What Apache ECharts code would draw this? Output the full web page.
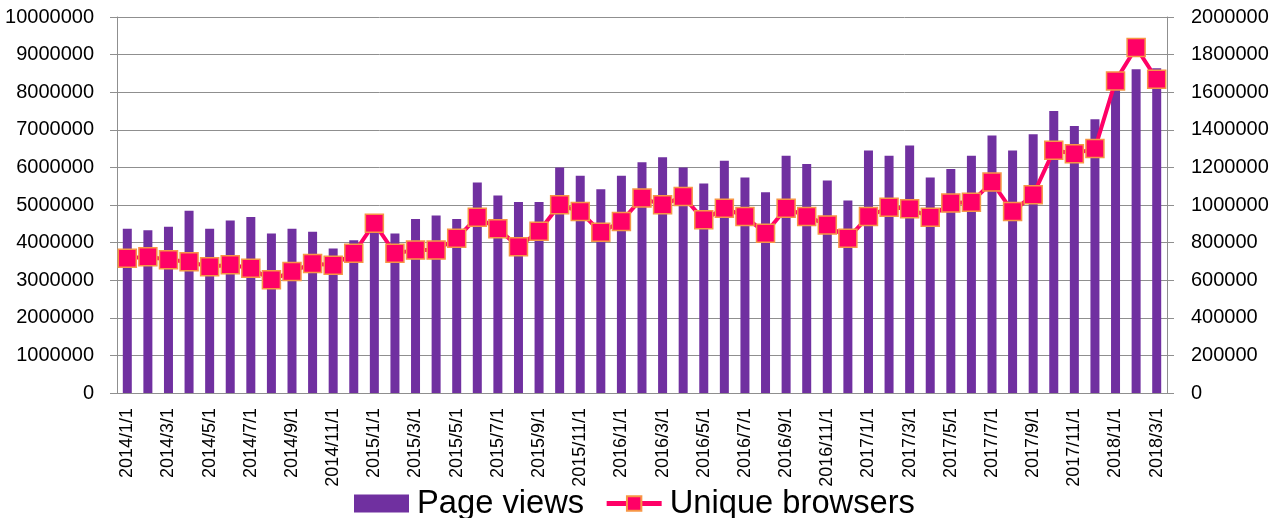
<!DOCTYPE html>
<html>
<head>
<meta charset="utf-8">
<script src="https://cdn.jsdelivr.net/npm/echarts@6/dist/echarts.min.js"></script>
<style>
  html, body { margin: 0; padding: 0; background: #fff; }
  #main { width: 1283px; height: 518px; }
</style>
</head>
<body>
<div id="main"></div>
<script>
// months 2014/1/1 .. 2018/3/1
const months = [];
for (let y = 2014; y <= 2018; y++) {
  for (let m = 1; m <= 12; m++) {
    if (y === 2018 && m > 3) break;
    months.push(y + '/' + m + '/1');
  }
}

const pageViews = [
  4370000, 4330000, 4420000, 4850000, 4370000, 4590000, 4680000, 4240000, 4370000, 4290000, 3840000, 4060000,
  4600000, 4240000, 4630000, 4720000, 4630000, 5600000, 5250000, 5080000, 5080000, 6000000, 5780000, 5420000,
  5780000, 6140000, 6270000, 6000000, 5570000, 6180000, 5730000, 5340000, 6310000, 6090000, 5650000, 5120000,
  6450000, 6310000, 6580000, 5730000, 5960000, 6310000, 6850000, 6450000, 6880000, 7500000, 7100000, 7280000,
  8350000, 8610000, 8640000
];

const uniqueBrowsers = [
  717000, 725000, 709000, 698000, 671000, 682000, 664000, 602000, 646000, 689000, 680000, 743000,
  903000, 743000, 760000, 760000, 823000, 935000, 874000, 778000, 860000, 1001000, 965000, 855000,
  912000, 1037000, 1001000, 1045000, 921000, 983000, 939000, 850000, 983000, 939000, 894000, 823000,
  939000, 988000, 980000, 935000, 1010000, 1015000, 1122000, 965000, 1054000, 1291000, 1273000, 1300000,
  1660000, 1838000, 1669000
];

const chart = echarts.init(document.getElementById('main'));

const gray = '#8f8f8f';
const plain = function (v) { return String(v); };

chart.setOption({
  animation: false,
  textStyle: { fontFamily: 'Liberation Sans' },
  grid: {
    left: 117,
    right: 116,
    top: 17,
    bottom: 125
  },
  legend: {
    bottom: -7,
    left: 349,
    itemGap: 20,
    itemWidth: 55,
    itemHeight: 18,
    textStyle: { fontSize: 32.7, color: '#000', fontFamily: 'Liberation Sans', padding: [0, 0, 0, 3] },
    data: [
      { name: 'Page views', icon: 'rect' },
      { name: 'Unique browsers', lineStyle: { width: 5 } }
    ]
  },
  xAxis: {
    type: 'category',
    data: months,
    boundaryGap: true,
    axisLine: { lineStyle: { color: gray } },
    axisTick: { interval: 1, length: 7, lineStyle: { color: gray } },
    axisLabel: {
      interval: 1,
      rotate: 90,
      fontSize: 18,
      color: '#000',
      margin: 15
    }
  },
  yAxis: [
    {
      type: 'value',
      min: 0,
      max: 10000000,
      interval: 1000000,
      axisLine: { show: true, lineStyle: { color: gray } },
      axisTick: { show: true, length: 7, lineStyle: { color: gray } },
      splitLine: { lineStyle: { color: gray, width: 1 } },
      axisLabel: { fontSize: 20, color: '#000', margin: 23, formatter: plain }
    },
    {
      type: 'value',
      min: 0,
      max: 2000000,
      interval: 200000,
      position: 'right',
      axisLine: { show: true, lineStyle: { color: gray } },
      axisTick: { show: true, length: 7, lineStyle: { color: gray } },
      splitLine: { show: false },
      axisLabel: { fontSize: 20, color: '#000', margin: 24, formatter: plain }
    }
  ],
  series: [
    {
      name: 'Page views',
      type: 'bar',
      data: pageViews,
      barWidth: 9,
      itemStyle: { color: '#7030A0' }
    },
    {
      name: 'Unique browsers',
      type: 'line',
      yAxisIndex: 1,
      data: uniqueBrowsers,
      symbol: 'rect',
      symbolSize: 18,
      showAllSymbol: true,
      lineStyle: { color: '#FF0066', width: 4 },
      itemStyle: { color: '#FF0066', borderColor: '#F79646', borderWidth: 1.5 }
    }
  ]
});
</script>
</body>
</html>
